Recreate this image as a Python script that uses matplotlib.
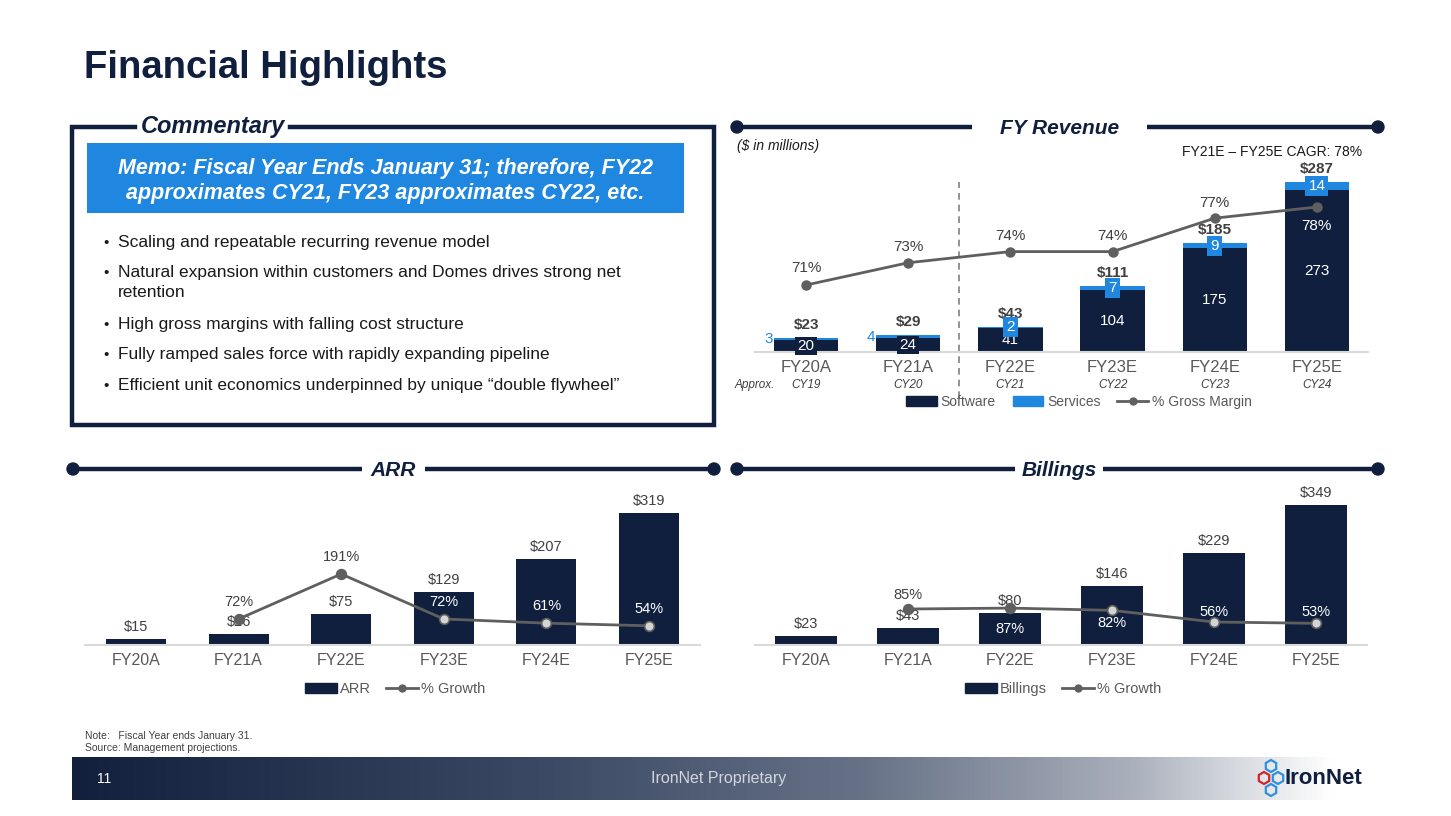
import numpy as np
import matplotlib
matplotlib.use("Agg")
import matplotlib.pyplot as plt
from matplotlib.patches import Patch, Circle, RegularPolygon
from matplotlib.lines import Line2D
from matplotlib.colors import LinearSegmentedColormap

# ---------------- data ----------------
years = ["FY20A", "FY21A", "FY22E", "FY23E", "FY24E", "FY25E"]
cal_years = ["CY19", "CY20", "CY21", "CY22", "CY23", "CY24"]
rev_software = [20, 24, 41, 104, 175, 273]
rev_services = [3, 4, 2, 7, 9, 14]
rev_total_labels = ["$23", "$29", "$43", "$111", "$185", "$287"]
gross_margin = [71, 73, 74, 74, 77, 78]
arr = [15, 26, 75, 129, 207, 319]
arr_growth = [np.nan, 72, 191, 72, 61, 54]
billings = [23, 43, 80, 146, 229, 349]
billings_growth = [np.nan, 85, 87, 82, 56, 53]
bullets = [
    "Scaling and repeatable recurring revenue model",
    "Natural expansion within customers and Domes drives strong net\nretention",
    "High gross margins with falling cost structure",
    "Fully ramped sales force with rapidly expanding pipeline",
    "Efficient unit economics underpinned by unique \u201cdouble flywheel\u201d",
]
memo = "Memo: Fiscal Year Ends January 31; therefore, FY22\napproximates CY21, FY23 approximates CY22, etc."

# ---------------- style ----------------
W, H = 1451, 816
NAVY = "#0f1f3d"
BLUE = "#1f87e0"
LINE = "#5f5f5f"
LIGHT_MK = "#d4d4d4"
TXT = "#404040"
TICK = "#595959"
SANS = ["Liberation Sans", "DejaVu Sans"]
plt.rcParams["font.family"] = SANS

fig = plt.figure(figsize=(W / 100, H / 100), dpi=100)
fig.patch.set_facecolor("white")

bg = fig.add_axes([0, 0, 1, 1])
bg.set_xlim(0, W)
bg.set_ylim(H, 0)
bg.axis("off")


def px_axes(x0, y0, x1, y1):
    a = fig.add_axes([x0 / W, 1 - y1 / H, (x1 - x0) / W, (y1 - y0) / H])
    a.set_facecolor("none")
    return a


def header(x0, x1, y, text, tx0, tx1, size=15):
    bg.plot([x0, tx0], [y, y], color=NAVY, lw=3.2, solid_capstyle="butt")
    bg.plot([tx1, x1], [y, y], color=NAVY, lw=3.2, solid_capstyle="butt")
    bg.add_patch(Circle((x0, y), 6, color=NAVY))
    bg.add_patch(Circle((x1, y), 6, color=NAVY))
    bg.text((tx0 + tx1) / 2, y + 1, text, ha="center", va="center", fontsize=size,
            weight="bold", style="italic", color=NAVY)


# ---------------- title ----------------
bg.text(84, 68, "Financial Highlights", fontsize=27.5, weight="bold", color=NAVY,
        ha="left", va="center")

# ---------------- commentary box ----------------
bg.plot([135, 72, 72, 714, 714, 290], [127, 127, 425, 425, 127, 127], color=NAVY,
        lw=3.2, solid_joinstyle="miter")
bg.text(213, 127, "Commentary", ha="center", va="center", fontsize=17, weight="bold",
        style="italic", color=NAVY)
bg.add_patch(plt.Rectangle((87, 143), 597, 70, color=BLUE, ec="none"))
bg.text(385.5, 181, memo, ha="center", va="center", fontsize=15.5, weight="bold",
        style="italic", color="white", linespacing=1.25)
bullet_y = [243, 273, 325, 355, 386]
for by, t in zip(bullet_y, bullets):
    bg.text(103, by, "\u2022", ha="left", va="center", fontsize=11, color="#1a1a1a")
    bg.text(118, by - 8, t, ha="left", va="top", fontsize=12.5, color="#1a1a1a",
            linespacing=1.45)

# ---------------- headers ----------------
header(737, 1378, 127, "FY Revenue", 972, 1147)
header(73, 714, 469, "ARR", 362, 425)
header(737, 1378, 469, "Billings", 1015, 1103)

x = np.arange(len(years))


def base_axes(a, ymax, tick_size=12):
    a.set_xlim(-0.5, len(years) - 0.5)
    a.set_ylim(0, ymax)
    for s in ["top", "left", "right"]:
        a.spines[s].set_visible(False)
    a.spines["bottom"].set_color("#d9d9d9")
    a.spines["bottom"].set_linewidth(1.5)
    a.set_yticks([])
    a.set_xticks(x)
    a.set_xticklabels(years, fontsize=tick_size, color=TICK)
    a.tick_params(axis="x", length=0, pad=6)


def twin(a, lo, hi):
    t = a.twinx()
    t.set_ylim(lo, hi)
    t.set_yticks([])
    for s in t.spines.values():
        s.set_visible(False)
    return t


# ---------------- FY revenue ----------------
ax = px_axes(755, 160, 1368, 352)
base_axes(ax, 324.3, 12)
ax.bar(x, rev_software, width=0.63, color=NAVY, zorder=2)
ax.bar(x, rev_services, bottom=rev_software, width=0.63, color=BLUE, zorder=2)
totals = np.array(rev_software) + np.array(rev_services)
for i in x:
    ax.annotate(rev_total_labels[i], xy=(i, totals[i]), xytext=(0, 13),
                textcoords="offset pixels", ha="center", va="center", fontsize=11,
                weight="bold", color=TXT, zorder=5)
    sw_mid = rev_software[i] / 2
    small = totals[i] < 30
    ax.text(i, sw_mid, str(rev_software[i]), ha="center", va="center", fontsize=11,
            color="white", zorder=5,
            bbox=dict(boxstyle="square,pad=0.15", fc=NAVY, ec="none") if small else None)
    sv_mid = rev_software[i] + rev_services[i] / 2
    if small:
        ax.annotate(str(rev_services[i]), xy=(i - 0.315, sv_mid), xytext=(-1, 0),
                    textcoords="offset pixels", ha="right", va="center", fontsize=11,
                    color=BLUE)
    else:
        ax.text(i, sv_mid, str(rev_services[i]), ha="center", va="center", fontsize=11,
                color="white", zorder=5,
                bbox=dict(boxstyle="square,pad=0.2", fc=BLUE, ec="none"))
    ax.annotate(cal_years[i], xy=(i, 0), xytext=(0, -33), textcoords="offset pixels",
                ha="center", va="center", fontsize=8.5, style="italic", color=TXT)
ax.axvline(1.5, ymin=-0.24, ymax=0.885, color="#808080", ls=(0, (4, 3)), lw=1.2,
           clip_on=False)
ax2 = twin(ax, 64.99, 82.22)
ax2.plot(x, gross_margin, color=LINE, lw=2, marker="o", ms=6.5, mfc=LINE, mec=LINE)
gm_dy = [17, 16, 16, 16, 15, -19]
for i, v in enumerate(gross_margin):
    ax2.annotate(f"{v}%", xy=(i, v), xytext=(0, gm_dy[i]), textcoords="offset pixels",
                 ha="center", va="center", fontsize=11,
                 color="white" if gm_dy[i] < 0 else TXT)
bg.text(735, 385, "Approx.", ha="left", va="center", fontsize=8.5, style="italic", color=TXT)
bg.text(737, 146, "($ in millions)", ha="left", va="center", fontsize=10, style="italic",
        color="#1a1a1a")
bg.text(1362, 152, "FY21E \u2013 FY25E CAGR: 78%", ha="right", va="center", fontsize=10,
        color="#1a1a1a")
ax.legend(handles=[Patch(color=NAVY), Patch(color=BLUE),
                   Line2D([], [], color=LINE, lw=2, marker="o", ms=5)],
          labels=["Software", "Services", "% Gross Margin"], ncol=3, frameon=False,
          loc="center", bbox_to_anchor=(1079 / W, 1 - 402 / H),
          bbox_transform=fig.transFigure, fontsize=10, labelcolor=TICK,
          handlelength=2.2, handleheight=0.7, handletextpad=0.3, columnspacing=1.2)


# ---------------- ARR / Billings ----------------
def growth_chart(x0, x1, vals, growth, ymax, glo, ghi, bar_w, dys, light_from, leg_label, leg_cx):
    a = px_axes(x0, 490, x1, 645)
    base_axes(a, ymax, 11.5)
    a.bar(x, vals, width=bar_w, color=NAVY, zorder=2)
    for i, v in enumerate(vals):
        a.annotate(f"${v}", xy=(i, v), xytext=(0, 12), textcoords="offset pixels",
                   ha="center", va="center", fontsize=10.5, color=TXT)
    t = twin(a, glo, ghi)
    t.plot(x, growth, color=LINE, lw=2, zorder=3)
    for i, g in enumerate(growth):
        if np.isnan(g):
            continue
        fc = LIGHT_MK if i >= light_from else LINE
        t.plot([i], [g], marker="o", ms=7, mfc=fc, mec=LINE, mew=1.2, zorder=4)
        # label colour: white when it sits on a bar
        ypix = t.transData.transform((i, g))[1] + dys[i]
        ydat = a.transData.inverted().transform((0, ypix))[1]
        col = "white" if ydat < vals[i] else TXT
        t.annotate(f"{g:.0f}%", xy=(i, g), xytext=(0, dys[i]), textcoords="offset pixels",
                   ha="center", va="center", fontsize=10.5, color=col, zorder=5)
    a.legend(handles=[Patch(color=NAVY), Line2D([], [], color=LINE, lw=2, marker="o", ms=5)],
             labels=[leg_label, "% Growth"], ncol=2, frameon=False, loc="center",
             bbox_to_anchor=(leg_cx / W, 1 - 689 / H), bbox_transform=fig.transFigure,
             fontsize=10.5, labelcolor=TICK, handlelength=2.2, handleheight=0.7,
             handletextpad=0.2, columnspacing=1.0)
    return a


growth_chart(84.7, 700.3, arr, arr_growth, 374.4, 3.2, 413.3, 0.585,
             [0, 17, 17, 17, 17, 17], 3, "ARR", 395)
growth_chart(755, 1367, billings, billings_growth, 386.5, 4.64, 350.6, 0.6,
             [0, 14, -21, -13, 10, 11], 3, "Billings", 1063)

# ---------------- footer ----------------
bg.text(85, 736, "Note:   Fiscal Year ends January 31.", fontsize=7.5, color=TXT,
        ha="left", va="center")
bg.text(85, 748, "Source: Management projections.", fontsize=7.5, color=TXT,
        ha="left", va="center")
cmap = LinearSegmentedColormap.from_list(
    "foot", [(0, "#13203d"), (0.35, "#3a4863"), (0.6, "#687388"), (0.8, "#aab0bc"),
             (0.95, "#ffffff"), (1, "#ffffff")])
bg.imshow(np.linspace(0, 1, 512).reshape(1, -1), extent=[72, 1400, 800, 757], cmap=cmap,
          aspect="auto", zorder=0)
bg.set_xlim(0, W)
bg.set_ylim(H, 0)
bg.text(97, 779, "11", fontsize=10, color="white", ha="left", va="center")
bg.text(719, 778, "IronNet Proprietary", fontsize=11.5, color="#d2d6dd", ha="center",
        va="center")
for (hx, hy, c) in [(1271, 766, "#2f8fe0"), (1264, 778, "#d0242b"),
                    (1278, 778, "#2f8fe0"), (1271, 790, "#2f8fe0")]:
    bg.add_patch(RegularPolygon((hx, hy), 6, radius=6, fill=False, ec=c, lw=1.6))
bg.text(1285, 779, "IronNet", fontsize=16, weight="bold", color=NAVY, ha="left",
        va="center")

fig.savefig("out.png", dpi=100, facecolor="white")
